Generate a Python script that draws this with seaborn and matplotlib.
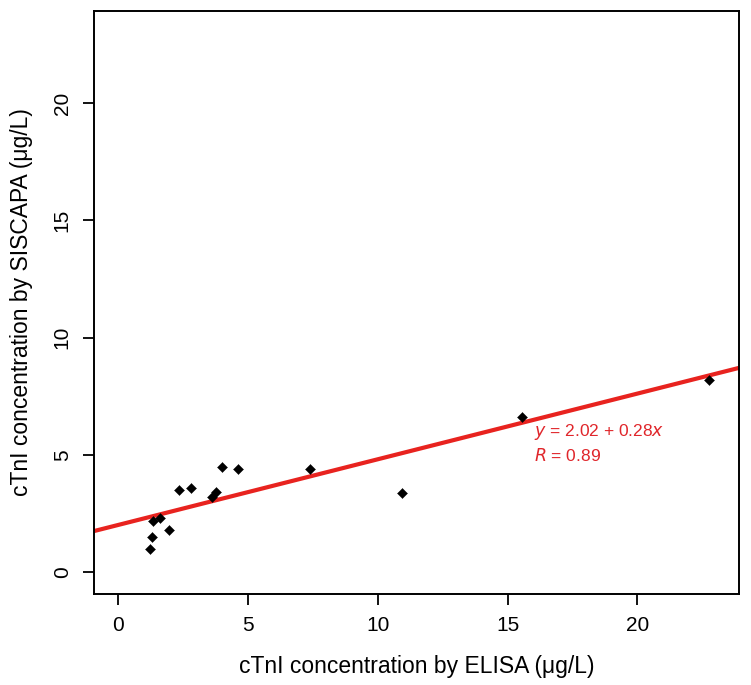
import pandas as pd
import matplotlib
matplotlib.use("Agg")
import matplotlib.pyplot as plt
import seaborn as sns

# --- data ---
elisa = [1.22, 1.33, 1.36, 1.63, 1.97, 2.36, 2.83, 3.61, 3.78, 4.00, 4.63, 7.38, 10.95, 15.55, 22.74]
siscapa = [1.01, 1.49, 2.20, 2.30, 1.80, 3.51, 3.61, 3.21, 3.41, 4.50, 4.42, 4.42, 3.39, 6.61, 8.19]
intercept = 2.02
slope = 0.28
r_value = 0.89
ticks = [0, 5, 10, 15, 20]

df = pd.DataFrame({"ELISA": elisa, "SISCAPA": siscapa})

sns.set_theme(style="white")
plt.rcParams['font.family'] = ['Liberation Sans', 'DejaVu Sans']
plt.rcParams['text.color'] = 'black'
plt.rcParams['axes.labelcolor'] = 'black'
plt.rcParams['xtick.color'] = 'black'
plt.rcParams['ytick.color'] = 'black'

fig = plt.figure(figsize=(7.51, 6.85), dpi=100)
ax = fig.add_axes([0.1252, 0.1328, 0.8592, 0.8512])

sns.scatterplot(data=df, x="ELISA", y="SISCAPA", ax=ax, marker="D",
                color="black", s=26, edgecolor="black", linewidth=0.3, zorder=3)

# fitted line across the whole panel (like R's abline)
ax.axline((0, intercept), slope=slope, color="#e8231f", linewidth=3.0, zorder=2)

ax.text(16.0, 6.0, r"$\it{y}$ = %.2f + %.2f$\it{x}$" % (intercept, slope),
        color="#e0262b", fontsize=12.5, ha="left", va="center")
ax.text(16.0, 4.97, r"$\it{R}$ = %.2f" % r_value,
        color="#e0262b", fontsize=12.5, ha="left", va="center")

ax.set_xlim(-0.92, 23.92)
ax.set_ylim(-0.92, 23.92)
ax.set_xticks(ticks)
ax.set_yticks(ticks)
ax.set_xticklabels([str(t) for t in ticks], fontsize=15)
ax.set_yticklabels([str(t) for t in ticks], fontsize=15, rotation=90, va="center")
ax.tick_params(axis="both", direction="out", length=8, width=1.3, pad=8,
               bottom=True, left=True)

for sp in ax.spines.values():
    sp.set_color("black")
    sp.set_linewidth(1.4)

ax.set_xlabel("cTnI concentration by ELISA (\u03bcg/L)", fontsize=16.5, labelpad=14)
ax.set_ylabel("cTnI concentration by SISCAPA (\u03bcg/L)", fontsize=16.5, labelpad=14)
ax.grid(False)

fig.savefig("out.png", dpi=100, facecolor="white")
plt.close(fig)
